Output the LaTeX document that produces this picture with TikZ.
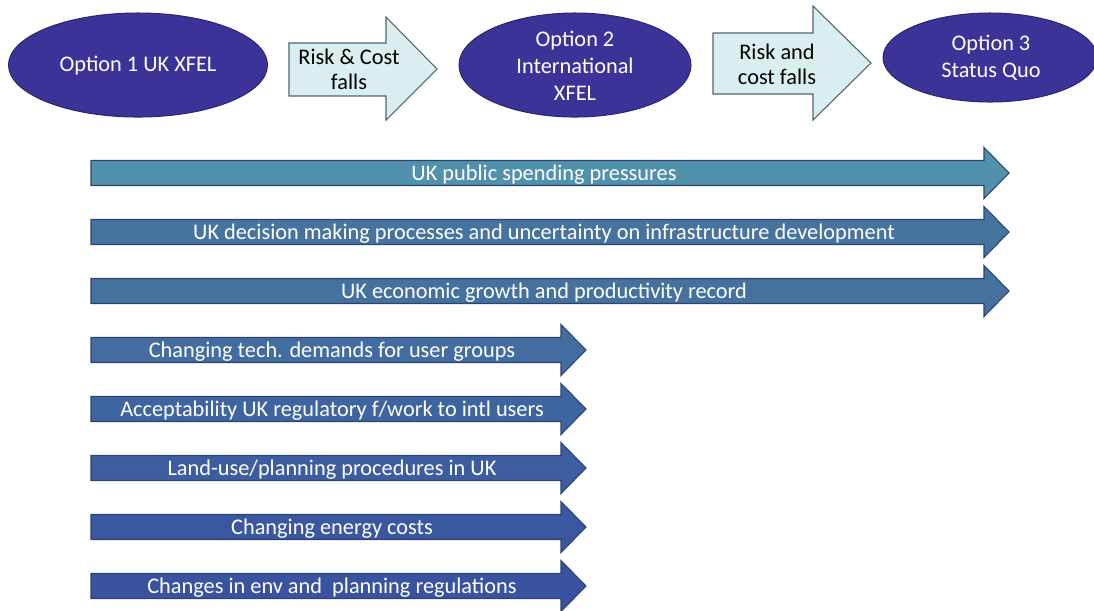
\documentclass[tikz,border=0pt]{standalone}
\usepackage{fontspec}
\setmainfont{Carlito}
\usetikzlibrary{shapes.geometric}
\definecolor{optionfill}{HTML}{3C3399}
\definecolor{optionline}{HTML}{2B2870}
\definecolor{riskfill}{HTML}{DAEEF0}
\definecolor{riskline}{HTML}{4F6470}
\definecolor{barline}{HTML}{2C4470}
\definecolor{barA}{HTML}{5191AB}
\definecolor{barB}{HTML}{46749E}
\definecolor{barC}{HTML}{44719E}
\definecolor{barD}{HTML}{436CA0}
\definecolor{barE}{HTML}{3F65A0}
\definecolor{barF}{HTML}{3D5DA0}
\definecolor{barG}{HTML}{3A57A0}
\definecolor{barH}{HTML}{3953A0}
\tikzset{
  option/.style={
    ellipse,
    inner sep=0pt,
    line width=0.6pt,
    draw=optionline,
    fill=optionfill
    },
  optiontext/.style={
    align=center,
    text=white,
    font=\fontsize{12.7}{15.4}\selectfont
    },
  risk/.style={
    line width=0.6pt,
    draw=riskline,
    fill=riskfill
    },
  risktext/.style={
    align=center,
    font=\fontsize{12.7}{14.4}\selectfont
    },
  bar/.style={
    line width=0.6pt,
    draw=barline
    },
  bartext/.style={
    inner sep=0pt,
    text height=8.1pt,
    text depth=0pt,
    text=white,
    font=\fontsize{12.7}{15.2}\selectfont
    },
}
\begin{document}
\begin{tikzpicture}[x=0.02cm, y=-0.02cm]
\useasboundingbox (0,0) rectangle (1094,610);

% the three options
\node (opt1) [option, minimum width=5.18cm, minimum height=2.08cm] at (138,65) {};
\node (opt1txt) [optiontext] at (138,66) {Option 1 UK XFEL};
\node (opt2) [option, minimum width=4.64cm, minimum height=2.08cm] at (575,65) {};
\node (opt2txt) [optiontext] at (575,66) {Option 2\\International\\XFEL};
\node (opt3) [option, minimum width=4.28cm, minimum height=1.78cm] at (990,57.5) {};
\node (opt3txt) [optiontext] at (991,58) {Option 3\\Status Quo};

% block arrows between options
\draw[risk] (289,43) -- (386,43) -- (386,17) -- (437,69) -- (386,120) -- (386,96) -- (289,96) -- cycle;
\node (risk1) [risktext] at (349,69) {Risk \& Cost\\falls};
\draw[risk] (713,33) -- (813,33) -- (813,6) -- (871,63) -- (813,120) -- (813,94) -- (713,94) -- cycle;
\node (risk2) [risktext] at (777,64) {Risk and\\cost falls};

% factors reaching all three options
\draw[bar, fill=barA] (91,160.5) -- ++(893,0) -- ++(0,-13) -- ++(25,25.5) -- ++(-25,25.5) -- ++(0,-13) -- ++(-893,0) -- cycle;
\node (spending) [bartext] at (544,173) {UK public spending pressures};
\draw[bar, fill=barB] (91,219.5) -- ++(893,0) -- ++(0,-13) -- ++(25,25.5) -- ++(-25,25.5) -- ++(0,-13) -- ++(-893,0) -- cycle;
\node (decision) [bartext] at (544,232) {UK decision making processes and uncertainty on infrastructure development};
\draw[bar, fill=barC] (91,278.5) -- ++(893,0) -- ++(0,-13) -- ++(25,25.5) -- ++(-25,25.5) -- ++(0,-13) -- ++(-893,0) -- cycle;
\node (growth) [bartext] at (544,291) {UK economic growth and productivity record};

% factors reaching the first two options
\draw[bar, fill=barD] (91,337.5) -- ++(470,0) -- ++(0,-13) -- ++(25,25.5) -- ++(-25,25.5) -- ++(0,-13) -- ++(-470,0) -- cycle;
\node (techdemand) [bartext] at (332,350) {Changing tech. demands for user groups};
\draw[bar, fill=barE] (91,396.5) -- ++(470,0) -- ++(0,-13) -- ++(25,25.5) -- ++(-25,25.5) -- ++(0,-13) -- ++(-470,0) -- cycle;
\node (regulatory) [bartext] at (332,409) {Acceptability UK regulatory f/work to intl users};
\draw[bar, fill=barF] (91,455.5) -- ++(470,0) -- ++(0,-13) -- ++(25,25.5) -- ++(-25,25.5) -- ++(0,-13) -- ++(-470,0) -- cycle;
\node (landuse) [bartext] at (332,468) {Land-use/planning procedures in UK};
\draw[bar, fill=barG] (91,514.5) -- ++(470,0) -- ++(0,-13) -- ++(25,25.5) -- ++(-25,25.5) -- ++(0,-13) -- ++(-470,0) -- cycle;
\node (energy) [bartext] at (332,527) {Changing energy costs};
\draw[bar, fill=barH] (91,573.5) -- ++(470,0) -- ++(0,-13) -- ++(25,25.5) -- ++(-25,25.5) -- ++(0,-13) -- ++(-470,0) -- cycle;
\node (envrules) [bartext] at (332,586) {Changes in env and~ planning regulations};
\end{tikzpicture}
\end{document}
